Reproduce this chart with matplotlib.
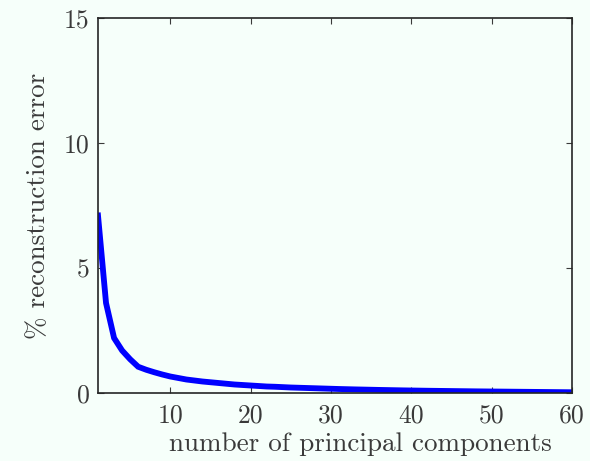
import matplotlib
matplotlib.use("Agg")
import matplotlib.pyplot as plt

plt.rcParams["font.family"] = "serif"
plt.rcParams["font.serif"] = ["cmr10", "DejaVu Serif"]
plt.rcParams["mathtext.fontset"] = "cm"
plt.rcParams["axes.unicode_minus"] = False

# number of principal components vs. % reconstruction error
components = list(range(1, 61))
error = [7.1, 3.6, 2.2, 1.7, 1.35, 1.05, 0.93, 0.83, 0.74, 0.66,
         0.60, 0.54, 0.50, 0.46, 0.43, 0.40, 0.37, 0.34, 0.32, 0.30,
         0.28, 0.26, 0.25, 0.235, 0.22, 0.21, 0.20, 0.19, 0.18, 0.17,
         0.160, 0.152, 0.144, 0.137, 0.130, 0.123, 0.117, 0.111, 0.105, 0.100,
         0.095, 0.090, 0.086, 0.082, 0.078, 0.074, 0.070, 0.066, 0.063, 0.060,
         0.057, 0.054, 0.051, 0.048, 0.045, 0.042, 0.039, 0.036, 0.033, 0.030]

xticks = [10, 20, 30, 40, 50, 60]
yticks = [0, 5, 10, 15]

bg = "#f6fffa"
txt = "#3a3a3a"
fig = plt.figure(figsize=(5.9, 4.61), dpi=100, facecolor=bg)
ax = fig.add_axes([0.1661, 0.1475, 0.8034, 0.8135])
ax.set_facecolor(bg)

ax.plot(components, error, color="#0000ff", linewidth=4.2, solid_joinstyle="miter")

ax.set_xlim(1, 60)
ax.set_ylim(0, 15)
ax.set_xticks(xticks)
ax.set_yticks(yticks)
ax.tick_params(direction="in", length=4, width=0.8, top=True, right=True,
               labelsize=18.5, colors=txt, pad=6)
ax.tick_params(axis="x", pad=8)
for sp in ax.spines.values():
    sp.set_color("#262626")
    sp.set_linewidth(1.2)

ax.set_xlabel("number of principal components", fontsize=19.5, color=txt)
ax.xaxis.set_label_coords(0.553, -0.105)
ax.set_ylabel("% reconstruction error", fontsize=19.5, color=txt, labelpad=10)

fig.savefig("out.png", dpi=100, facecolor=bg)
plt.close(fig)
